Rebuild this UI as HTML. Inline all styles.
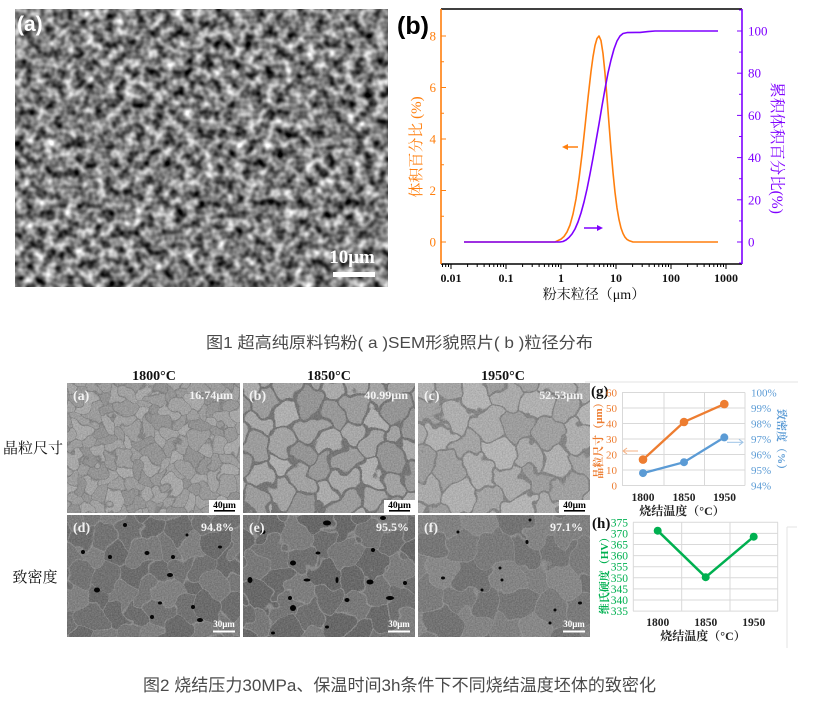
<!DOCTYPE html>
<html><head><meta charset="utf-8"><style>
html,body{margin:0;padding:0;background:#fff;}
svg{display:block;}
.sf{font-family:"Liberation Serif","Noto Serif CJK SC",serif;}
.ss{font-family:"Liberation Sans","Noto Sans CJK SC",sans-serif;}
</style></head><body>
<svg width="822" height="703" viewBox="0 0 822 703" xmlns="http://www.w3.org/2000/svg">
<defs>
<polygon id="hx" points="10,0 5,8.66 -5,8.66 -10,0 -5,-8.66 5,-8.66"/>
<g id="tile">
 <use href="#hx" x="0" y="0" fill="#fff" fill-opacity=".25"/>
 <use href="#hx" x="0" y="17.32" fill="#000" fill-opacity=".10"/>
 <use href="#hx" x="30" y="0" fill="#fff" fill-opacity=".08"/>
 <use href="#hx" x="30" y="17.32" fill="#fff" fill-opacity=".35"/>
 <use href="#hx" x="15" y="8.66" fill="#000" fill-opacity=".05"/>
 <use href="#hx" x="15" y="25.98" fill="#fff" fill-opacity=".18"/>
 <use href="#hx" x="45" y="8.66" fill="#000" fill-opacity=".14"/>
 <use href="#hx" x="45" y="25.98" fill="#fff" fill-opacity=".04"/>
 <use href="#hx" x="60" y="0" fill="#fff" fill-opacity=".25"/>
 <use href="#hx" x="60" y="17.32" fill="#000" fill-opacity=".10"/>
 <use href="#hx" x="0" y="34.64" fill="#fff" fill-opacity=".25"/>
 <use href="#hx" x="30" y="34.64" fill="#fff" fill-opacity=".08"/>
 <use href="#hx" x="60" y="34.64" fill="#fff" fill-opacity=".25"/>
</g>
<pattern id="pA" patternUnits="userSpaceOnUse" width="60" height="34.64" patternTransform="rotate(15) scale(0.85)"><use href="#tile" stroke="#5e5e5e" stroke-width="1.2"/></pattern>
<pattern id="pB" patternUnits="userSpaceOnUse" width="60" height="34.64" patternTransform="rotate(5) scale(1.5)"><use href="#tile" stroke="#4f4f4f" stroke-width="2"/></pattern>
<pattern id="pC" patternUnits="userSpaceOnUse" width="60" height="34.64" patternTransform="rotate(-20) scale(1.75)"><use href="#tile" stroke="#5f5f5f" stroke-width="1.5"/></pattern>
<pattern id="pD" patternUnits="userSpaceOnUse" width="60" height="34.64" patternTransform="rotate(25) scale(1.4)"><use href="#tile" stroke="#c8c8c8" stroke-width="0.8"/></pattern>
<pattern id="pE" patternUnits="userSpaceOnUse" width="60" height="34.64" patternTransform="rotate(-10) scale(1.6)"><use href="#tile" stroke="#d0d0d0" stroke-width="0.8"/></pattern>
<pattern id="pF" patternUnits="userSpaceOnUse" width="60" height="34.64" patternTransform="rotate(35) scale(1.8)"><use href="#tile" stroke="#bdbdbd" stroke-width="0.6"/></pattern>
<filter id="fPowder" x="0" y="0" width="1" height="1" color-interpolation-filters="sRGB">
 <feTurbulence type="fractalNoise" baseFrequency="0.1" numOctaves="2" seed="7"/>
 <feColorMatrix type="matrix" values="1.5 0 0 0 -0.26  1.5 0 0 0 -0.26  1.5 0 0 0 -0.26  0 0 0 0 1"/>
</filter>
<filter id="fD1" color-interpolation-filters="sRGB">
 <feTurbulence type="fractalNoise" baseFrequency="0.05" numOctaves="2" seed="2" result="n"/>
 <feDisplacementMap in="SourceGraphic" in2="n" scale="28" xChannelSelector="R" yChannelSelector="G"/>
</filter>
<filter id="fD2" color-interpolation-filters="sRGB">
 <feTurbulence type="fractalNoise" baseFrequency="0.04" numOctaves="2" seed="9" result="n"/>
 <feDisplacementMap in="SourceGraphic" in2="n" scale="32" xChannelSelector="R" yChannelSelector="G"/>
</filter>
<filter id="fFine" x="0" y="0" width="1" height="1" color-interpolation-filters="sRGB">
 <feTurbulence type="fractalNoise" baseFrequency="0.7" numOctaves="2" seed="4"/>
 <feColorMatrix type="matrix" values="1 0 0 0 0  1 0 0 0 0  1 0 0 0 0  0 0 0 0 0.2"/>
</filter>
</defs>

<rect width="822" height="703" fill="#fff"/>

<!-- ===== Top SEM (a) ===== -->
<svg x="15" y="9" width="373" height="278">
 <rect width="373" height="278" fill="#808080" filter="url(#fPowder)"/>
 <text x="2" y="22" class="ss" font-size="21" font-weight="bold" fill="#fff">(a)</text>
 <text x="337" y="254" class="sf" font-size="19" font-weight="bold" fill="#fff" text-anchor="middle">10μm</text>
 <rect x="318" y="263" width="42" height="5" fill="#fff"/>
</svg>

<!-- ===== Chart (b) ===== -->
<g>
 <text x="397" y="34" class="ss" font-size="25" font-weight="bold" fill="#000">(b)</text>
 <line x1="441" y1="9" x2="742" y2="9" stroke="#000" stroke-width="1.5"/>
 <line x1="441" y1="264" x2="742" y2="264" stroke="#000" stroke-width="1.5"/>
 <line x1="441" y1="9" x2="441" y2="264" stroke="#ff7f0e" stroke-width="1.6"/>
 <line x1="742" y1="9" x2="742" y2="264" stroke="#7f00ff" stroke-width="1.6"/>
 <g stroke="#ff7f0e" stroke-width="1">
  <line x1="441" y1="242" x2="446" y2="242"/><line x1="441" y1="190.5" x2="446" y2="190.5"/><line x1="441" y1="139" x2="446" y2="139"/><line x1="441" y1="87.5" x2="446" y2="87.5"/><line x1="441" y1="36" x2="446" y2="36"/>
  <line x1="441" y1="216.25" x2="444" y2="216.25"/><line x1="441" y1="164.75" x2="444" y2="164.75"/><line x1="441" y1="113.25" x2="444" y2="113.25"/><line x1="441" y1="61.75" x2="444" y2="61.75"/>
 </g>
 <g class="sf" font-size="13" fill="#ff7f0e" text-anchor="end">
  <text x="436" y="246.5">0</text><text x="436" y="195">2</text><text x="436" y="143.5">4</text><text x="436" y="92">6</text><text x="436" y="40.5">8</text>
 </g>
 <g stroke="#7f00ff" stroke-width="1">
  <line x1="737" y1="242" x2="742" y2="242"/><line x1="737" y1="199.8" x2="742" y2="199.8"/><line x1="737" y1="157.6" x2="742" y2="157.6"/><line x1="737" y1="115.4" x2="742" y2="115.4"/><line x1="737" y1="73.2" x2="742" y2="73.2"/><line x1="737" y1="31" x2="742" y2="31"/>
  <line x1="739" y1="220.9" x2="742" y2="220.9"/><line x1="739" y1="178.7" x2="742" y2="178.7"/><line x1="739" y1="136.5" x2="742" y2="136.5"/><line x1="739" y1="94.3" x2="742" y2="94.3"/><line x1="739" y1="52.1" x2="742" y2="52.1"/><line x1="739" y1="263" x2="742" y2="263"/><line x1="739" y1="10" x2="742" y2="10"/>
 </g>
 <g class="sf" font-size="13" fill="#7f00ff">
  <text x="748" y="246.5">0</text><text x="748" y="204.3">20</text><text x="748" y="162.1">40</text><text x="748" y="119.9">60</text><text x="748" y="77.7">80</text><text x="748" y="35.5">100</text>
 </g>
 <g stroke="#000" stroke-width="1">
  <line x1="451" y1="264" x2="451" y2="269"/><line x1="506" y1="264" x2="506" y2="269"/><line x1="561" y1="264" x2="561" y2="269"/><line x1="616" y1="264" x2="616" y2="269"/><line x1="671" y1="264" x2="671" y2="269"/><line x1="726" y1="264" x2="726" y2="269"/>
  <line x1="442.5" y1="264" x2="442.5" y2="267"/><line x1="445.7" y1="264" x2="445.7" y2="267"/><line x1="448.5" y1="264" x2="448.5" y2="267"/>
  <line x1="467.6" y1="264" x2="467.6" y2="267"/><line x1="477.2" y1="264" x2="477.2" y2="267"/><line x1="484.1" y1="264" x2="484.1" y2="267"/><line x1="489.4" y1="264" x2="489.4" y2="267"/><line x1="493.8" y1="264" x2="493.8" y2="267"/><line x1="497.5" y1="264" x2="497.5" y2="267"/><line x1="500.7" y1="264" x2="500.7" y2="267"/><line x1="503.5" y1="264" x2="503.5" y2="267"/>
  <line x1="522.6" y1="264" x2="522.6" y2="267"/><line x1="532.2" y1="264" x2="532.2" y2="267"/><line x1="539.1" y1="264" x2="539.1" y2="267"/><line x1="544.4" y1="264" x2="544.4" y2="267"/><line x1="548.8" y1="264" x2="548.8" y2="267"/><line x1="552.5" y1="264" x2="552.5" y2="267"/><line x1="555.7" y1="264" x2="555.7" y2="267"/><line x1="558.5" y1="264" x2="558.5" y2="267"/>
  <line x1="577.6" y1="264" x2="577.6" y2="267"/><line x1="587.2" y1="264" x2="587.2" y2="267"/><line x1="594.1" y1="264" x2="594.1" y2="267"/><line x1="599.4" y1="264" x2="599.4" y2="267"/><line x1="603.8" y1="264" x2="603.8" y2="267"/><line x1="607.5" y1="264" x2="607.5" y2="267"/><line x1="610.7" y1="264" x2="610.7" y2="267"/><line x1="613.5" y1="264" x2="613.5" y2="267"/>
  <line x1="632.6" y1="264" x2="632.6" y2="267"/><line x1="642.2" y1="264" x2="642.2" y2="267"/><line x1="649.1" y1="264" x2="649.1" y2="267"/><line x1="654.4" y1="264" x2="654.4" y2="267"/><line x1="658.8" y1="264" x2="658.8" y2="267"/><line x1="662.5" y1="264" x2="662.5" y2="267"/><line x1="665.7" y1="264" x2="665.7" y2="267"/><line x1="668.5" y1="264" x2="668.5" y2="267"/>
  <line x1="687.6" y1="264" x2="687.6" y2="267"/><line x1="697.2" y1="264" x2="697.2" y2="267"/><line x1="704.1" y1="264" x2="704.1" y2="267"/><line x1="709.4" y1="264" x2="709.4" y2="267"/><line x1="713.8" y1="264" x2="713.8" y2="267"/><line x1="717.5" y1="264" x2="717.5" y2="267"/><line x1="720.7" y1="264" x2="720.7" y2="267"/><line x1="723.5" y1="264" x2="723.5" y2="267"/>
 </g>
 <g class="sf" font-size="12" font-weight="bold" fill="#111" text-anchor="middle">
  <text x="451" y="282">0.01</text><text x="506" y="282">0.1</text><text x="561" y="282">1</text><text x="616" y="282">10</text><text x="671" y="282">100</text><text x="726" y="282">1000</text>
 </g>
 <text x="594" y="299" class="sf" font-size="14" fill="#111" text-anchor="middle">粉末粒径（μm）</text>
 <text transform="translate(421,147) rotate(-90)" class="sf" font-size="15" fill="#ff7f0e" text-anchor="middle">体积百分比 (%)</text>
 <text transform="translate(772,148) rotate(90)" class="sf" font-size="15.5" fill="#7f00ff" text-anchor="middle">累积体积百分比(%)</text>
 <polyline fill="none" stroke="#ff7f0e" stroke-width="1.6" stroke-linejoin="round" points="464,242 555,242 561,239.1 564,236.5 567,232 570,225 573,214.1 576,199 579,178.8 582,154.4 585,126.6 588,98 591,71.5 593,56.8 595,45.5 597,38.5 599,36 601,40.6 603,53.5 605,73.3 607,97.6 609,123.8 611,149.5 613,172.6 615,192.3 617,208 619,219.6 621,228 623,233.5 625,237.2 627,239.4 629,240.6 633,242 718,242"/>
 <polyline fill="none" stroke="#7f00ff" stroke-width="1.6" stroke-linejoin="round" points="464,242 560,242 563,241.5 566,240 569,237.5 572,234 575,229 578,222 581,213 584,202 587,189 590,174 593,158 596,141 599,124 602,106 605,89 608,73 611,60 614,49 617,41 620,36 623,33.5 627,32.6 640,32.4 648,31.6 655,31 718,31"/>
 <line x1="567" y1="147" x2="578" y2="147" stroke="#ff7f0e" stroke-width="1.5"/>
 <polygon points="562,147 568,144 568,150" fill="#ff7f0e"/>
 <line x1="584" y1="228" x2="598" y2="228" stroke="#7f00ff" stroke-width="1.5"/>
 <polygon points="603,228 597,225 597,231" fill="#7f00ff"/>
</g>

<!-- ===== Caption 1 ===== -->
<text x="206" y="348" class="ss" font-size="16" fill="#4a4a4a" textLength="387" lengthAdjust="spacingAndGlyphs">图1  超高纯原料钨粉( a )SEM形貌照片( b )粒径分布</text>

<!-- ===== Micrograph grid headers ===== -->
<g class="sf" font-size="14" font-weight="bold" fill="#111" text-anchor="middle">
 <text x="154" y="380">1800°C</text>
 <text x="329" y="380">1850°C</text>
 <text x="503" y="380">1950°C</text>
</g>
<g class="sf" font-size="15" fill="#111" text-anchor="middle">
 <text x="33" y="453">晶粒尺寸</text>
 <text x="35" y="582">致密度</text>
</g>

<!-- Row 1 (a) -->
<svg x="67" y="383" width="173" height="130">
 <rect width="173" height="130" fill="#a2a2a2"/>
 <rect x="-20" y="-20" width="213" height="170" fill="url(#pA)" filter="url(#fD1)" opacity="0.5"/>
 <rect width="173" height="130" fill="#888" filter="url(#fFine)"/>
 <text x="6" y="17" class="sf" font-size="14" font-weight="bold" fill="#f2f2f2">(a)</text>
 <text x="166" y="16" class="sf" font-size="12" font-weight="bold" fill="#f4f4f4" text-anchor="end">16.74μm</text>
 <rect x="142" y="117" width="31" height="13" fill="#fff"/>
 <text x="157.5" y="125" class="sf" font-size="9.5" font-weight="bold" fill="#000" text-anchor="middle">40μm</text>
 <rect x="147" y="127" width="21" height="1.6" fill="#000"/>
</svg>
<!-- Row 1 (b) -->
<svg x="243" y="383" width="172" height="130">
 <rect width="172" height="130" fill="#a8a8a8"/>
 <rect x="-20" y="-20" width="212" height="170" fill="url(#pB)" filter="url(#fD2)" opacity="0.6"/>
 <rect width="172" height="130" fill="#888" filter="url(#fFine)"/>
 <text x="6" y="17" class="sf" font-size="14" font-weight="bold" fill="#f2f2f2">(b)</text>
 <text x="165" y="16" class="sf" font-size="12" font-weight="bold" fill="#f4f4f4" text-anchor="end">40.99μm</text>
 <rect x="141" y="117" width="31" height="13" fill="#fff"/>
 <text x="156.5" y="125" class="sf" font-size="9.5" font-weight="bold" fill="#000" text-anchor="middle">40μm</text>
 <rect x="146" y="127" width="21" height="1.6" fill="#000"/>
</svg>
<!-- Row 1 (c) -->
<svg x="418" y="383" width="172" height="130">
 <rect width="172" height="130" fill="#b2b2b2"/>
 <rect x="-20" y="-20" width="212" height="170" fill="url(#pC)" filter="url(#fD1)" opacity="0.55"/>
 <rect width="172" height="130" fill="#888" filter="url(#fFine)"/>
 <text x="6" y="17" class="sf" font-size="14" font-weight="bold" fill="#f2f2f2">(c)</text>
 <text x="165" y="16" class="sf" font-size="12" font-weight="bold" fill="#f4f4f4" text-anchor="end">52.53μm</text>
 <rect x="141" y="117" width="31" height="13" fill="#fff"/>
 <text x="156.5" y="125" class="sf" font-size="9.5" font-weight="bold" fill="#000" text-anchor="middle">40μm</text>
 <rect x="146" y="127" width="21" height="1.6" fill="#000"/>
</svg>

<!-- Row 2 (d) -->
<svg x="67" y="515" width="173" height="122">
 <rect width="173" height="122" fill="#6c6c6c"/>
 <rect x="-20" y="-20" width="213" height="162" fill="url(#pD)" filter="url(#fD2)" opacity="0.4"/>
 <rect width="173" height="122" fill="#888" filter="url(#fFine)"/>
 <g fill="#050505">
  <ellipse cx="30" cy="75" rx="3" ry="2.5"/><ellipse cx="58" cy="10" rx="2" ry="2"/><ellipse cx="80" cy="38" rx="2.5" ry="2"/><ellipse cx="103" cy="60" rx="3" ry="2"/><ellipse cx="16" cy="37" rx="2" ry="2"/><ellipse cx="133" cy="105" rx="3" ry="2"/><ellipse cx="126" cy="92" rx="2" ry="2"/><ellipse cx="85" cy="102" rx="2" ry="2"/><ellipse cx="153" cy="32" rx="2" ry="1.5"/><ellipse cx="106" cy="42" rx="2" ry="2"/><ellipse cx="93" cy="88" rx="2" ry="1.5"/><ellipse cx="43" cy="42" rx="2" ry="2"/><ellipse cx="120" cy="20" rx="1.5" ry="1.5"/>
 </g>
 <text x="6" y="17" class="sf" font-size="14" font-weight="bold" fill="#f2f2f2">(d)</text>
 <text x="167" y="16" class="sf" font-size="12" font-weight="bold" fill="#f4f4f4" text-anchor="end">94.8%</text>
 <text x="157" y="112" class="sf" font-size="9" font-weight="bold" fill="#fff" text-anchor="middle">30μm</text>
 <rect x="146" y="115.5" width="22" height="2" fill="#fff"/>
</svg>
<!-- Row 2 (e) -->
<svg x="243" y="515" width="172" height="122">
 <rect width="172" height="122" fill="#686868"/>
 <rect x="-20" y="-20" width="212" height="162" fill="url(#pE)" filter="url(#fD1)" opacity="0.4"/>
 <rect width="172" height="122" fill="#888" filter="url(#fFine)"/>
 <g fill="#030303">
  <ellipse cx="84" cy="8" rx="4" ry="2.5"/><ellipse cx="20" cy="17" rx="2.5" ry="2"/><ellipse cx="50" cy="48" rx="3" ry="2.5"/><ellipse cx="7" cy="65" rx="2.5" ry="3"/><ellipse cx="64" cy="65" rx="3.5" ry="1.5"/><ellipse cx="94" cy="65" rx="1.5" ry="3"/><ellipse cx="127" cy="67" rx="3.5" ry="2.5"/><ellipse cx="47" cy="83" rx="2" ry="2"/><ellipse cx="50" cy="93" rx="3" ry="3"/><ellipse cx="104" cy="85" rx="2.5" ry="2"/><ellipse cx="147" cy="83" rx="4" ry="2"/><ellipse cx="75" cy="38" rx="2.5" ry="1.5"/><ellipse cx="130" cy="35" rx="2" ry="2"/><ellipse cx="162" cy="68" rx="2" ry="2"/><ellipse cx="140" cy="3" rx="3" ry="2"/><ellipse cx="84" cy="112" rx="2" ry="1.5"/><ellipse cx="30" cy="118" rx="2" ry="1.5"/>
 </g>
 <text x="6" y="17" class="sf" font-size="14" font-weight="bold" fill="#f2f2f2">(e)</text>
 <text x="166" y="16" class="sf" font-size="12" font-weight="bold" fill="#f4f4f4" text-anchor="end">95.5%</text>
 <text x="156" y="112" class="sf" font-size="9" font-weight="bold" fill="#fff" text-anchor="middle">30μm</text>
 <rect x="145" y="115.5" width="22" height="2" fill="#fff"/>
</svg>
<!-- Row 2 (f) -->
<svg x="418" y="515" width="172" height="122">
 <rect width="172" height="122" fill="#777777"/>
 <rect x="-20" y="-20" width="212" height="162" fill="url(#pF)" filter="url(#fD2)" opacity="0.4"/>
 <rect width="172" height="122" fill="#888" filter="url(#fFine)"/>
 <g fill="#080808">
  <ellipse cx="40" cy="17" rx="1.5" ry="1.5"/><ellipse cx="109" cy="27" rx="1.5" ry="2"/><ellipse cx="112" cy="5" rx="1.5" ry="1.5"/><ellipse cx="25" cy="63" rx="2" ry="1.5"/><ellipse cx="64" cy="75" rx="1.5" ry="1.5"/><ellipse cx="84" cy="65" rx="1.5" ry="1.5"/><ellipse cx="137" cy="95" rx="1.5" ry="1.5"/><ellipse cx="162" cy="88" rx="2" ry="1.5"/><ellipse cx="132" cy="108" rx="1.5" ry="1.5"/><ellipse cx="82" cy="53" rx="1.5" ry="1.5"/>
 </g>
 <text x="6" y="17" class="sf" font-size="14" font-weight="bold" fill="#f2f2f2">(f)</text>
 <text x="165" y="16" class="sf" font-size="12" font-weight="bold" fill="#f4f4f4" text-anchor="end">97.1%</text>
 <text x="156" y="112" class="sf" font-size="9" font-weight="bold" fill="#fff" text-anchor="middle">30μm</text>
 <rect x="145" y="115.5" width="22" height="2" fill="#fff"/>
</svg>

<!-- ===== Chart (g) ===== -->
<g>
 <line x1="585" y1="382" x2="798" y2="382" stroke="#e3e3e3" stroke-width="1"/>
 <g stroke="#d9d9d9" stroke-width="1">
  <line x1="622" y1="392.5" x2="745" y2="392.5"/><line x1="622" y1="408" x2="745" y2="408"/><line x1="622" y1="423.5" x2="745" y2="423.5"/><line x1="622" y1="439" x2="745" y2="439"/><line x1="622" y1="454.5" x2="745" y2="454.5"/><line x1="622" y1="470" x2="745" y2="470"/><line x1="622" y1="485.5" x2="745" y2="485.5"/>
  <line x1="622.5" y1="392.5" x2="622.5" y2="485.5"/><line x1="664" y1="392.5" x2="664" y2="485.5"/><line x1="704.5" y1="392.5" x2="704.5" y2="485.5"/><line x1="745" y1="392.5" x2="745" y2="485.5"/>
 </g>
 <text x="591" y="396" class="sf" font-size="15" font-weight="bold" fill="#111">(g)</text>
 <g class="sf" font-size="11" fill="#ed7d31" text-anchor="end">
  <text x="617" y="489.5">0</text><text x="617" y="474">10</text><text x="617" y="458.5">20</text><text x="617" y="443">30</text><text x="617" y="427.5">40</text><text x="617" y="412">50</text><text x="617" y="396.5">60</text>
 </g>
 <g class="sf" font-size="11" fill="#5b9bd5">
  <text x="751" y="489.5">94%</text><text x="751" y="474">95%</text><text x="751" y="458.5">96%</text><text x="751" y="443">97%</text><text x="751" y="427.5">98%</text><text x="751" y="412">99%</text><text x="751" y="396.5">100%</text>
 </g>
 <text transform="translate(602,438) rotate(-90)" class="sf" font-size="11" font-weight="bold" fill="#ed7d31" text-anchor="middle">晶粒尺寸（μm）</text>
 <text transform="translate(778,442) rotate(90)" class="sf" font-size="11" font-weight="bold" fill="#5b9bd5" text-anchor="middle">致密度（%）</text>
 <g class="sf" font-size="11.5" font-weight="bold" fill="#222" text-anchor="middle">
  <text x="643" y="501">1800</text><text x="684" y="501">1850</text><text x="724.5" y="501">1950</text>
 </g>
 <text x="682" y="515" class="sf" font-size="12" font-weight="bold" fill="#222" text-anchor="middle">烧结温度（°C）</text>
 <polyline points="643,459.6 684,422 724.3,404.1" fill="none" stroke="#ed7d31" stroke-width="2.3"/>
 <g fill="#ed7d31"><circle cx="643" cy="459.6" r="4.3"/><circle cx="684" cy="422" r="4.3"/><circle cx="724.3" cy="404.1" r="4.3"/></g>
 <polyline points="643,473.1 684,462.2 724.3,437.4" fill="none" stroke="#5b9bd5" stroke-width="2.3"/>
 <g fill="#5b9bd5"><circle cx="643" cy="473.1" r="4"/><circle cx="684" cy="462.2" r="4"/><circle cx="724.3" cy="437.4" r="4"/></g>
 <line x1="624" y1="451" x2="638" y2="451" stroke="#f4b183" stroke-width="1"/>
 <polyline points="627,448 623,451 627,454" fill="none" stroke="#f4b183" stroke-width="1"/>
 <line x1="727" y1="442.3" x2="742" y2="442.3" stroke="#9dc3e6" stroke-width="1"/>
 <polyline points="739,439.3 743,442.3 739,445.3" fill="none" stroke="#9dc3e6" stroke-width="1"/>
</g>

<!-- ===== Chart (h) ===== -->
<g>
 <line x1="787" y1="527" x2="787" y2="648" stroke="#e3e3e3" stroke-width="1"/>
 <line x1="787" y1="527" x2="797" y2="527" stroke="#e3e3e3" stroke-width="1"/>
 <g stroke="#d9d9d9" stroke-width="1">
  <line x1="633" y1="522.3" x2="778" y2="522.3"/><line x1="633" y1="533.4" x2="778" y2="533.4"/><line x1="633" y1="544.5" x2="778" y2="544.5"/><line x1="633" y1="555.6" x2="778" y2="555.6"/><line x1="633" y1="566.7" x2="778" y2="566.7"/><line x1="633" y1="577.8" x2="778" y2="577.8"/><line x1="633" y1="588.9" x2="778" y2="588.9"/><line x1="633" y1="600" x2="778" y2="600"/><line x1="633" y1="611.1" x2="778" y2="611.1"/>
  <line x1="633.3" y1="522.3" x2="633.3" y2="611.1"/><line x1="681.7" y1="522.3" x2="681.7" y2="611.1"/><line x1="730" y1="522.3" x2="730" y2="611.1"/><line x1="777.7" y1="522.3" x2="777.7" y2="611.1"/>
 </g>
 <text x="592" y="528" class="sf" font-size="15" font-weight="bold" fill="#111">(h)</text>
 <g class="sf" font-size="11.5" fill="#00b050" text-anchor="end">
  <text x="628" y="526.3">375</text><text x="628" y="537.4">370</text><text x="628" y="548.5">365</text><text x="628" y="559.6">360</text><text x="628" y="570.7">355</text><text x="628" y="581.8">350</text><text x="628" y="592.9">345</text><text x="628" y="604">340</text><text x="628" y="615.1">335</text>
 </g>
 <text transform="translate(608,573) rotate(-90)" class="sf" font-size="11" font-weight="bold" fill="#00b050" text-anchor="middle">维氏硬度（HV）</text>
 <g class="sf" font-size="11.5" font-weight="bold" fill="#222" text-anchor="middle">
  <text x="657.7" y="626">1800</text><text x="705.7" y="626">1850</text><text x="753.7" y="626">1950</text>
 </g>
 <text x="703" y="640" class="sf" font-size="12" font-weight="bold" fill="#222" text-anchor="middle">烧结温度（°C）</text>
 <polyline points="657.7,530.7 705.7,577.2 753.7,536.7" fill="none" stroke="#00b050" stroke-width="2.5"/>
 <g fill="#00b050"><circle cx="657.7" cy="530.7" r="4"/><circle cx="705.7" cy="577.2" r="4"/><circle cx="753.7" cy="536.7" r="4"/></g>
</g>

<!-- ===== Caption 2 ===== -->
<text x="143" y="691" class="ss" font-size="17" fill="#4a4a4a" textLength="513" lengthAdjust="spacingAndGlyphs">图2  烧结压力30MPa、保温时间3h条件下不同烧结温度坯体的致密化</text>

</svg>
</body></html>
